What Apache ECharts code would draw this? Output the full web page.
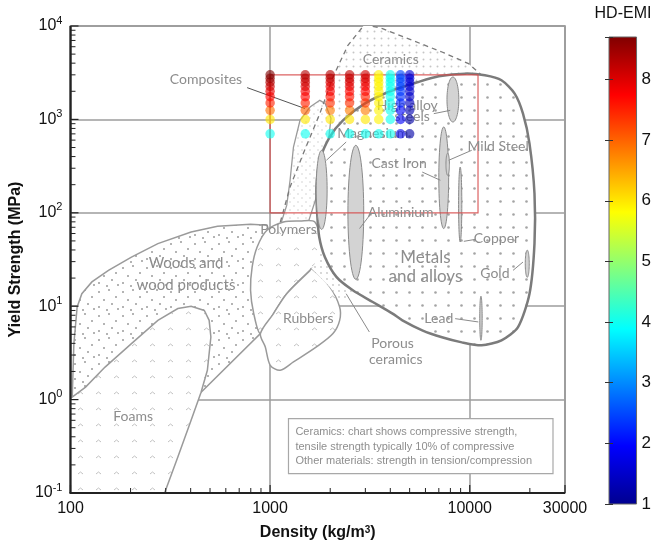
<!DOCTYPE html>
<html><head><meta charset="utf-8">
<script src="https://cdn.jsdelivr.net/npm/echarts@6.0.0/dist/echarts.min.js"></script>
<style>html,body{margin:0;padding:0;background:#fff;}#chart{width:654px;height:549px;}</style>
</head><body><div id="chart"></div>
<script>
// ================= DATA =================
// scatter grid: density columns (kg/m3) x yield strength rows (MPa)
const densities = [1000, 1500, 2000, 2500, 3000, 3500, 4000, 4500, 5000];
const strengths = [700, 1000, 1250, 1500, 1750, 2000, 2250, 2500, 2750, 3000];
// HD-EMI per density column (ordered like strengths)
const emiD1000 = [4.0, 6.0, 6.9, 7.5, 7.7, 7.9, 8.1, 8.3, 8.5, 8.7];
const emiD1500 = [4.0, 6.0, 7.0, 7.5, 7.7, 7.8, 8.0, 8.1, 8.2, 8.3];
const emiD2000 = [4.0, 6.0, 6.8, 7.4, 7.6, 7.8, 7.9, 8.0, 8.2, 8.3];
const emiD2500 = [4.0, 6.0, 6.8, 7.4, 7.6, 7.7, 7.9, 8.0, 8.1, 8.2];
const emiD3000 = [4.0, 6.0, 6.8, 7.3, 7.5, 7.7, 7.8, 7.9, 8.0, 8.1];
const emiD3500 = [4.0, 5.9, 5.9, 5.9, 5.9, 5.9, 5.9, 5.9, 5.9, 5.9];
const emiD4000 = [4.0, 4.0, 4.0, 4.0, 4.0, 4.0, 4.0, 4.0, 4.0, 4.0];
const emiD4500 = [1.8, 1.9, 2.0, 2.2, 2.3, 2.4, 2.4, 2.5, 2.5, 2.5];
const emiD5000 = [1.2, 1.2, 1.3, 1.4, 1.5, 1.5, 1.6, 1.6, 1.6, 1.6];
const emiColumns = [emiD1000, emiD1500, emiD2000, emiD2500, emiD3000, emiD3500, emiD4000, emiD4500, emiD5000];
const emiRange = [1, 8.7];

// axis ticks
const xTicks = [100, 1000, 10000, 30000];
const yTicks = [0.1, 1, 10, 100, 1000, 10000];
const xMinorTicks = [200, 300, 400, 500, 600, 700, 800, 900, 2000, 3000, 4000, 5000, 6000, 7000, 8000, 9000, 20000];
const yMinorMultipliers = [2, 3, 4, 5, 6, 7, 8, 9];
const colorbarTicks = [1, 2, 3, 4, 5, 6, 7, 8];

// material property regions (density kg/m3, strength MPa)
const foamsOutline = [[100,0.1],[100,1.03],[119,1.36],[149,2.23],[202,3.98],[274,7.06],[345,9.43],[402,9.98],[468,9.0],[495,7.06],[505,4.68],[485,2.06],[451,1.2],[402,0.6],[345,0.243],[296,0.1]];
const woodOutline = [[102,1.03],[104,3.98],[108,9.8],[114,13.6],[128,18.2],[155,24.2],[202,33.6],[274,46.8],[402,62.2],[545,71.6],[798,75.4],[964,73.5],[1100,31],[894,5.09],[451,1.2]];
const polymersOutline = [[964,65],[1167,79.6],[1412,81.6],[1676,79.6],[1844,43],[1880,33.6],[1585,24.2],[1211,13.6],[1040,8.34],[894,5.09],[828,8.34],[798,14.8],[813,26.3],[861,43]];
const rubbersOutline = [[1611,25.3],[1990,16.1],[2230,9.8],[2230,7.06],[2065,5.09],[1706,3.66],[1309,2.53],[1124,2.06],[1002,2.33],[946,3.66],[894,5.09],[1040,8.34],[1211,13.6],[1585,24.2]];
const porousOutline = [[1802,41.7],[2065,26.7],[2371,18],[2596,14.4],[2453,12],[2230,11.5],[1990,16.1],[1611,25.3],[1762,32.6]];
const metalsOutline = [[4598,7.06],[5781,5.52],[7261,4.65],[9125,4.1],[11470,3.81],[14420,4.31],[17450,5.98],[19920,13.6],[21100,46.8],[21100,161],[19920,551],[18480,1153],[16790,1889],[14420,2625],[11910,2965],[9480,3090],[6998,2891],[5457,2496],[4106,2051],[2978,1476],[2317,977],[1990,649],[1774,365],[1706,189],[1721,98],[1762,55],[1880,33.6],[2148,20.6],[2596,14.8],[3266,11.1],[4106,8.34]];
const ceramicsOutline = [[1124,79],[1259,189],[1466,431],[1774,1153],[2065,2845],[2453,6210],[2978,10420],[3656,9380],[5150,7030],[7261,5270],[9860,3955],[11470,2965],[10230,467],[2065,223],[1466,73.5]];
const ceramicsEdge = [[1124,79],[1259,189],[1466,431],[1774,1153],[2065,2845],[2453,6210],[2978,10420],[3656,9380],[5150,7030],[7261,5270],[9860,3955],[11470,2965]];
const compositesOutline = [[1137,79],[1211,120],[1259,223],[1309,506],[1412,977],[1585,1358],[1774,1600],[1884,1486],[2018,1028],[1884,285],[1552,79]];

// metal families: [density min, density max, strength min, strength max]
const ellMagnesium = [1701, 1930, 66.5, 467];
const ellAluminium = [2453, 2944, 19.4, 528];
const ellHighAlloy = [7690, 8815, 938, 2845];
const ellCastIron = [6998, 7840, 67.8, 830];
const ellMildSteel = [7600, 7910, 252, 434];
const ellCopper = [8790, 9125, 48.7, 309];
const ellGold = [18970, 19860, 20.4, 39.8];
const ellLead = [11220, 11540, 4.31, 12.8];
const metalEllipses = [ellMagnesium, ellAluminium, ellHighAlloy, ellCastIron, ellMildSteel, ellCopper, ellGold, ellLead];

// selection window
const selectionBox = [[1000, 100], [11000, 3000]];

// labels [text, density, strength]
const regionLabels = [
  ['Ceramics', 4022, 4366], ['Composites', 477, 2685], ['High alloy', 4864, 1416], ['steels', 5150, 1067],
  ['Magnesium', 3266, 705], ['Cast Iron', 4426, 336], ['Mild Steel', 13870, 515], ['Aluminium', 4508, 102],
  ['Copper', 13610, 53], ['Gold', 13360, 22.3], ['Lead', 6998, 7.36], ['Metals', 5998, 33.6], ['and alloys', 5998, 20.6],
  ['Polymers', 1236, 66], ['Rubbers', 1552, 7.36], ['Porous', 4106, 3.98], ['ceramics', 4259, 2.69],
  ['Woods and', 379, 28.6], ['wood products', 379, 16.7], ['Foams', 206, 0.652]
];
const leaderLines = [
  [[767,2188],[1496,1306]], [[6607,1153],[7982,1250]], [[2404,573],[1914,365]], [[5781,273],[7128,223]],
  [[10230,467],[7840,365]], [[3199,98],[2805,67.8]], [[9340,49.5],[10710,52]], [[16480,24.2],[18480,29.7]],
  [[8450,7.36],[11040,6.78]], [[3140,5.3],[2404,13.6]]
];
const noteBox = [[1236, 0.627], [26120, 0.1615]];
const noteLines = ['Ceramics: chart shows compressive strength,', 'tensile strength typically 10% of compressive', 'Other materials: strength in tension/compression'];
const noteAnchors = [[1339, 0.445], [1339, 0.311], [1339, 0.219]];

// ================= STYLE / BUILD =================
const jet = ['#00008f','#0000ff','#0080ff','#00ffff','#80ff80','#ffff00','#ff8000','#ff0000','#800000'];
const bigLabels = {'Metals': 17, 'and alloys': 17, 'Woods and': 15, 'wood products': 15};
const labelColor = '#8d8d8d';

function makePattern(w, h, draw) {
  const c = document.createElement('canvas'); c.width = w; c.height = h;
  const g = c.getContext('2d'); g.fillStyle = '#ffffff'; g.fillRect(0, 0, w, h); draw(g);
  return {image: c, repeat: 'repeat'};
}
function dot(g, x, y, r, col) { g.fillStyle = col; g.beginPath(); g.arc(x, y, r, 0, Math.PI * 2); g.fill(); }
const patMetals = makePattern(13, 13, g => dot(g, 6.5, 6.5, 1.3, '#a4a4a4'));
const patCeramics = makePattern(7, 7, g => dot(g, 3.5, 3.5, 1.0, '#c6c6c6'));
const patComposites = makePattern(8, 8, g => { dot(g, 2, 2, 0.8, '#d0d0d0'); dot(g, 6, 6, 0.8, '#d0d0d0'); });
const patPorous = makePattern(6, 6, g => dot(g, 3, 3, 0.9, '#c6c6c6'));
const patWood = makePattern(24, 24, g => {
  [[3,4],[13,2],[20,9],[8,12],[16,16],[3,19],[11,22],[22,21]].forEach(p => dot(g, p[0], p[1], 0.8, '#555'));
});
const patFoam = makePattern(18, 16, g => {
  g.strokeStyle = '#c2c2c2'; g.lineWidth = 1; g.beginPath();
  g.moveTo(6, 10); g.lineTo(8.5, 8); g.lineTo(11, 10); g.stroke();
});

function polyEl(api, pts, style, smooth) {
  return {type: 'polygon', shape: {points: pts.map(p => api.coord(p)), smooth: smooth || 0}, style: style};
}
function lineEl(api, pts, style) {
  return {type: 'polyline', shape: {points: pts.map(p => api.coord(p))}, style: Object.assign({fill: null}, style)};
}
function ellipseEl(api, e, style) {
  const a = api.coord([e[0], e[2]]), b = api.coord([e[1], e[3]]);
  const cx = (a[0] + b[0]) / 2, cy = (a[1] + b[1]) / 2, rx = Math.abs(b[0] - a[0]) / 2, ry = Math.abs(b[1] - a[1]) / 2;
  const pts = [];
  for (let i = 0; i < 60; i++) { const t = i / 60 * Math.PI * 2; pts.push([cx + rx * Math.cos(t), cy + ry * Math.sin(t)]); }
  return {type: 'polygon', shape: {points: pts}, style: style};
}
function layer(z, clip, build) {
  return {type: 'custom', coordinateSystem: 'cartesian2d', xAxisIndex: 0, yAxisIndex: 0, z: z, clip: clip, silent: true,
    data: [[1000, 100]], encode: {x: 0, y: 1},
    renderItem: (params, api) => ({type: 'group', children: build(api)})};
}

const thin = '#9a9a9a';
const regionsLayer = layer(3, true, api => {
  const els = [];
  els.push(polyEl(api, ceramicsOutline, {fill: patCeramics, stroke: null}));
  els.push(polyEl(api, compositesOutline, {fill: patComposites, stroke: thin, lineWidth: 1.3}));
  els.push(lineEl(api, ceramicsEdge, {stroke: '#7a7a7a', lineWidth: 1.3, lineDash: [5, 4]}));
  els.push(polyEl(api, woodOutline, {fill: patWood, stroke: thin, lineWidth: 1.5}));
  els.push(polyEl(api, foamsOutline, {fill: patFoam, stroke: thin, lineWidth: 1.5}));
  els.push(polyEl(api, polymersOutline, {fill: patFoam, stroke: thin, lineWidth: 1.5}, 0.3));
  els.push(polyEl(api, rubbersOutline, {fill: patFoam, stroke: thin, lineWidth: 1.5}, 0.3));
  els.push(polyEl(api, porousOutline, {fill: patPorous, stroke: null}));
  els.push(polyEl(api, metalsOutline, {fill: patMetals, stroke: '#7b7b7b', lineWidth: 2.5}, 0.25));
  metalEllipses.forEach(e => els.push(ellipseEl(api, e, {fill: '#d3d3d3', stroke: '#8a8a8a', lineWidth: 1})));
  return els;
});

const boxLayer = layer(4, false, api => {
  const a = api.coord(selectionBox[0]), b = api.coord(selectionBox[1]);
  const n1 = api.coord(noteBox[0]), n2 = api.coord(noteBox[1]);
  const els = [
    {type: 'rect', shape: {x: a[0], y: b[1], width: b[0] - a[0], height: a[1] - b[1]}, style: {fill: null, stroke: 'rgba(214,70,70,0.85)', lineWidth: 1.2}},
    {type: 'rect', shape: {x: n1[0], y: n1[1], width: n2[0] - n1[0], height: n2[1] - n1[1]}, style: {fill: '#fff', stroke: '#a8a8a8', lineWidth: 1.2}}
  ];
  noteLines.forEach((t, i) => {
    const p = api.coord(noteAnchors[i]);
    els.push({type: 'text', x: p[0], y: p[1], style: {text: t, fill: '#8e8e8e', fontSize: 11, fontFamily: 'Liberation Sans', align: 'left', verticalAlign: 'middle'}});
  });
  return els;
});

const labelLayer = layer(5, false, api => {
  const els = [];
  leaderLines.forEach((l, i) => els.push(lineEl(api, l, {stroke: i === 0 ? '#555' : '#8a8a8a', lineWidth: 1})));
  regionLabels.forEach(l => {
    const p = api.coord([l[1], l[2]]);
    els.push({type: 'text', x: p[0], y: p[1], style: {text: l[0], fill: labelColor, fontSize: bigLabels[l[0]] || 14, fontFamily: 'Lato', align: 'center', verticalAlign: 'middle'}});
  });
  return els;
});

const frameLayer = layer(30, false, api => {
  const els = [];
  const xMin = xTicks[0], yMin = yTicks[0], xMax = xTicks[xTicks.length - 1], yMax = yTicks[yTicks.length - 1];
  const o = api.coord([xMin, yMin]), top = api.coord([xMin, yMax]), right = api.coord([xMax, yMin]);
  const ln = (x1, y1, x2, y2, w) => ({type: 'line', shape: {x1, y1, x2, y2}, style: {stroke: '#222', lineWidth: w}});
  yTicks.forEach(v => { const p = api.coord([xMin, v]); els.push(ln(p[0], p[1], p[0] + 8, p[1], 1.2)); });
  for (let k = 0; k < yTicks.length - 1; k++) {
    yMinorMultipliers.forEach(m => { const p = api.coord([xMin, yTicks[k] * m]); els.push(ln(p[0], p[1], p[0] + 5, p[1], 1)); });
  }
  xTicks.forEach(v => { const p = api.coord([v, yMin]); els.push(ln(p[0], p[1], p[0], p[1] - 8, 1.2)); });
  xMinorTicks.forEach(v => { const p = api.coord([v, yMin]); els.push(ln(p[0], p[1], p[0], p[1] - 5, 1)); });
  els.push(ln(o[0], o[1], top[0], top[1], 2.2));
  els.push(ln(o[0] - 1, o[1], right[0], right[1], 2.2));
  return els;
});

const scatterData = [];
densities.forEach((d, i) => strengths.forEach((s, j) => scatterData.push([d, s, emiColumns[i][j]])));

const colorbarLayer = {
  type: 'custom', coordinateSystem: 'cartesian2d', xAxisIndex: 1, yAxisIndex: 1, z: 2, silent: true,
  data: [[0.5, 4]], encode: {x: 0, y: 1},
  renderItem: (params, api) => {
    const a = api.coord([0, emiRange[0]]), b = api.coord([1, emiRange[1]]);
    return {type: 'rect', shape: {x: a[0], y: b[1], width: b[0] - a[0], height: a[1] - b[1]},
      style: {fill: new echarts.graphic.LinearGradient(0, 1, 0, 0, jet.map((c, i) => ({offset: i / (jet.length - 1), color: c}))), stroke: '#666', lineWidth: 1}};
  }
};

const supRich = {
  b: {fontSize: 16, fontFamily: 'Liberation Sans', color: '#111', lineHeight: 22},
  s: {fontSize: 11, fontFamily: 'Liberation Sans', color: '#111', lineHeight: 11, verticalAlign: 'top'}
};

const option = {
  backgroundColor: '#ffffff',
  animation: false,
  grid: [
    {left: 65, top: 26, width: 500, height: 467, show: true, borderColor: '#888', borderWidth: 1.5, backgroundColor: '#fff'},
    {left: 609, top: 37, width: 28, height: 467}
  ],
  xAxis: [
    {type: 'log', logBase: 10, gridIndex: 0, min: xTicks[0], max: xTicks[xTicks.length - 1],
     axisLine: {show: false}, axisTick: {show: false},
     axisLabel: {formatter: v => String(Math.round(v)), fontSize: 16, fontFamily: 'Liberation Sans', color: '#111', margin: 8},
     splitLine: {show: true, lineStyle: {color: '#9c9c9c', width: 1.5}},
     name: 'Density (kg/m{s|3})', nameLocation: 'middle', nameGap: 32,
     nameTextStyle: {fontSize: 16, fontWeight: 'bold', fontFamily: 'Liberation Sans', color: '#111',
       rich: {s: {fontSize: 10, fontWeight: 'bold', fontFamily: 'Liberation Sans', color: '#111', verticalAlign: 'top', lineHeight: 10}}}},
    {type: 'value', gridIndex: 1, min: 0, max: 1, show: false}
  ],
  yAxis: [
    {type: 'log', logBase: 10, gridIndex: 0, min: yTicks[0], max: yTicks[yTicks.length - 1],
     axisLine: {show: false}, axisTick: {show: false},
     axisLabel: {formatter: v => '{b|10}{s|' + Math.round(Math.log10(v)) + '}', rich: supRich, margin: 8},
     splitLine: {show: true, lineStyle: {color: '#9c9c9c', width: 1.5}},
     name: 'Yield Strength (MPa)', nameLocation: 'middle', nameGap: 42,
     nameTextStyle: {fontSize: 16, fontWeight: 'bold', fontFamily: 'Liberation Sans', color: '#111'}},
    {type: 'value', gridIndex: 1, position: 'right', min: emiRange[0], max: emiRange[1], interval: 1, z: 5,
     axisLine: {show: false}, splitLine: {show: false},
     axisTick: {show: true, inside: true, length: 4, lineStyle: {color: '#333'}},
     axisLabel: {formatter: v => (colorbarTicks.indexOf(v) >= 0 ? String(v) : ''), fontSize: 17, fontFamily: 'Liberation Sans', color: '#111', margin: 5}},
    {type: 'value', gridIndex: 1, position: 'left', min: emiRange[0], max: emiRange[1], interval: 1, z: 5,
     axisLine: {show: false}, splitLine: {show: false}, axisLabel: {show: false},
     axisTick: {show: true, inside: true, length: 4, lineStyle: {color: '#333'}}}
  ],
  visualMap: {type: 'continuous', show: false, seriesIndex: 3, dimension: 2, min: emiRange[0], max: emiRange[1], inRange: {color: jet}},
  graphic: [{type: 'text', x: 623, y: 14, style: {text: 'HD-EMI', fontSize: 16, fontFamily: 'Liberation Sans', fill: '#111', align: 'center', verticalAlign: 'middle'}}],
  series: [
    regionsLayer,
    boxLayer,
    labelLayer,
    {type: 'scatter', xAxisIndex: 0, yAxisIndex: 0, z: 6, symbol: 'circle', symbolSize: 9.5, data: scatterData,
     itemStyle: {opacity: 0.62}, silent: true},
    frameLayer,
    colorbarLayer
  ]
};

const chart = echarts.init(document.getElementById('chart'), null, {renderer: 'canvas'});
chart.setOption(option);
</script></body></html>
